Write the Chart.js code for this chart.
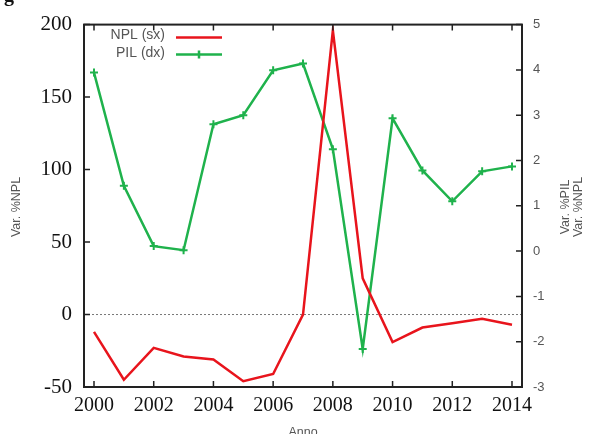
<!DOCTYPE html>
<html>
<head>
<meta charset="utf-8">
<script src="https://cdn.jsdelivr.net/npm/chart.js@4/dist/chart.umd.min.js"></script>
<style>
  body { margin: 0; background: #fff; }
  canvas { display: block; }
</style>
</head>
<body>
<canvas id="myChart" width="589" height="434"></canvas>
<script>
// Data
const years = [2000, 2001, 2002, 2003, 2004, 2005, 2006, 2007, 2008, 2009, 2010, 2011, 2012, 2013, 2014];
const nplValues = [-12, -45, -23, -29, -31, -46, -41, 0, 196, 25, -19, -9, -6, -3, -7];
const pilValues = [3.94, 1.44, 0.11, 0.02, 2.8, 3.0, 3.99, 4.14, 2.25, -2.16, 2.93, 1.78, 1.1, 1.76, 1.87];
const yearTicks = [2000, 2002, 2004, 2006, 2008, 2010, 2012, 2014];

const RED = "#e8141c";
const GREEN = "#1fb24c";
const GREY = "#555";

// gnuplot-like frame, inner ticks, zero line, legend and axis titles
const decor = {
  id: "decor",
  beforeDatasetsDraw(chart) {
    const { ctx, chartArea: a } = chart;
    const y0 = chart.scales.y.getPixelForValue(0);
    ctx.save();
    ctx.strokeStyle = "#777";
    ctx.lineWidth = 1;
    ctx.setLineDash([2, 2]);
    ctx.beginPath();
    ctx.moveTo(a.left, y0);
    ctx.lineTo(a.right, y0);
    ctx.stroke();
    ctx.restore();
  },
  afterDraw(chart) {
    const { ctx, chartArea: a, scales } = chart;
    ctx.save();
    ctx.strokeStyle = "#222";
    ctx.lineWidth = 2;
    ctx.strokeRect(a.left, a.top, a.right - a.left, a.bottom - a.top);

    ctx.lineWidth = 1.5;
    ctx.beginPath();
    scales.x.ticks.forEach(t => {
      const px = scales.x.getPixelForValue(t.value);
      ctx.moveTo(px, a.bottom); ctx.lineTo(px, a.bottom - 6);
      ctx.moveTo(px, a.top); ctx.lineTo(px, a.top + 6);
    });
    scales.y.ticks.forEach(t => {
      const py = scales.y.getPixelForValue(t.value);
      ctx.moveTo(a.left, py); ctx.lineTo(a.left + 6, py);
    });
    scales.y1.ticks.forEach(t => {
      const py = scales.y1.getPixelForValue(t.value);
      ctx.moveTo(a.right, py); ctx.lineTo(a.right - 6, py);
    });
    ctx.stroke();

    // legend
    ctx.font = "14px 'Liberation Sans', Arial, sans-serif";
    ctx.fillStyle = GREY;
    ctx.textAlign = "right";
    ctx.textBaseline = "middle";
    const lx = a.left + 81;
    ctx.fillText("NPL (sx)", lx, a.top + 11);
    ctx.fillText("PIL (dx)", lx, a.top + 29);
    ctx.lineWidth = 2.5;
    ctx.strokeStyle = RED;
    ctx.beginPath();
    ctx.moveTo(lx + 11, a.top + 13); ctx.lineTo(lx + 57, a.top + 13);
    ctx.stroke();
    ctx.strokeStyle = GREEN;
    ctx.beginPath();
    ctx.moveTo(lx + 11, a.top + 30); ctx.lineTo(lx + 57, a.top + 30);
    ctx.moveTo(lx + 34, a.top + 26); ctx.lineTo(lx + 34, a.top + 34);
    ctx.stroke();

    // axis titles
    ctx.textAlign = "center";
    ctx.font = "12.5px 'Liberation Sans', Arial, sans-serif";
    const midY = 207;
    [["Var. %NPL", 17], ["Var. %PIL", 566], ["Var. %NPL", 579]].forEach(([txt, x]) => {
      ctx.save();
      ctx.translate(x, midY);
      ctx.rotate(-Math.PI / 2);
      ctx.fillText(txt, 0, 0);
      ctx.restore();
    });
    ctx.textBaseline = "top";
    ctx.fillText("Anno", (a.left + a.right) / 2, 426);

    // clipped caption letter at the very top
    ctx.fillStyle = "#111";
    ctx.textAlign = "left";
    ctx.textBaseline = "alphabetic";
    ctx.font = "bold 20px 'Liberation Serif', serif";
    ctx.fillText("g", 4, 1);
    ctx.restore();
  }
};

new Chart(document.getElementById("myChart").getContext("2d"), {
  type: "line",
  data: {
    datasets: [
      {
        label: "NPL (sx)",
        data: years.map((yr, i) => ({ x: yr, y: nplValues[i] })),
        yAxisID: "y",
        borderColor: RED,
        borderWidth: 2.5,
        pointRadius: 0,
        tension: 0
      },
      {
        label: "PIL (dx)",
        data: years.map((yr, i) => ({ x: yr, y: pilValues[i] })),
        yAxisID: "y1",
        borderColor: GREEN,
        backgroundColor: GREEN,
        borderWidth: 2.5,
        pointStyle: "cross",
        pointRadius: 4,
        pointBorderWidth: 2,
        tension: 0
      }
    ]
  },
  options: {
    responsive: false,
    animation: false,
    layout: { padding: { top: 24, left: 0, right: 0, bottom: 0 } },
    plugins: { legend: { display: false }, tooltip: { enabled: false } },
    scales: {
      x: {
        type: "linear",
        min: 1999.665,
        max: 2014.335,
        afterBuildTicks: s => { s.ticks = yearTicks.map(v => ({ value: v })); },
        afterFit: s => { s.height = 47; },
        grid: { display: false, drawTicks: false },
        border: { display: false },
        ticks: {
          font: { family: "'Liberation Serif', 'Times New Roman', serif", size: 20 },
          color: "#111",
          padding: 7,
          maxRotation: 0,
          autoSkip: false,
          callback: v => String(v)
        }
      },
      y: {
        position: "left",
        min: -50,
        max: 200,
        afterFit: s => { s.width = 84; },
        grid: { display: false, drawTicks: false },
        border: { display: false },
        ticks: {
          stepSize: 50,
          font: { family: "'Liberation Serif', 'Times New Roman', serif", size: 21 },
          color: "#111",
          padding: 12
        }
      },
      y1: {
        position: "right",
        min: -3,
        max: 5,
        afterFit: s => { s.width = 67; },
        grid: { display: false, drawTicks: false },
        border: { display: false },
        ticks: {
          stepSize: 1,
          font: { family: "'Liberation Sans', Arial, sans-serif", size: 13 },
          color: GREY,
          padding: 11
        }
      }
    }
  },
  plugins: [decor]
});
</script>
</body>
</html>
